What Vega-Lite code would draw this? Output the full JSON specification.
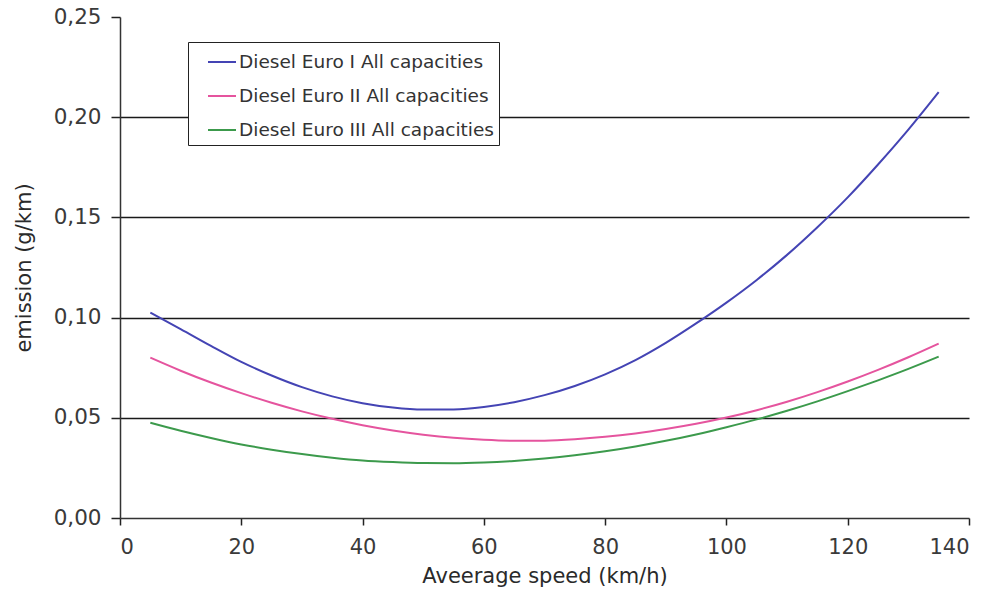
{
  "$schema": "https://vega.github.io/schema/vega-lite/v6.json",
  "width": 849,
  "height": 501,
  "autosize": "none",
  "padding": {"left": 120, "top": 17, "right": 27, "bottom": 78},
  "background": "white",
  "config": {
    "view": {"stroke": null},
    "font": "DejaVu Sans"
  },
  "datasets": {
    "pm": [
      {"speed": 5, "emission": 0.1025, "series": "Diesel Euro I All capacities"},
      {"speed": 10, "emission": 0.0943, "series": "Diesel Euro I All capacities"},
      {"speed": 15, "emission": 0.0859, "series": "Diesel Euro I All capacities"},
      {"speed": 20, "emission": 0.0779, "series": "Diesel Euro I All capacities"},
      {"speed": 25, "emission": 0.0711, "series": "Diesel Euro I All capacities"},
      {"speed": 30, "emission": 0.0653, "series": "Diesel Euro I All capacities"},
      {"speed": 35, "emission": 0.0607, "series": "Diesel Euro I All capacities"},
      {"speed": 40, "emission": 0.0573, "series": "Diesel Euro I All capacities"},
      {"speed": 45, "emission": 0.0551, "series": "Diesel Euro I All capacities"},
      {"speed": 50, "emission": 0.0541, "series": "Diesel Euro I All capacities"},
      {"speed": 55, "emission": 0.0542, "series": "Diesel Euro I All capacities"},
      {"speed": 60, "emission": 0.0554, "series": "Diesel Euro I All capacities"},
      {"speed": 65, "emission": 0.0578, "series": "Diesel Euro I All capacities"},
      {"speed": 70, "emission": 0.0613, "series": "Diesel Euro I All capacities"},
      {"speed": 75, "emission": 0.0659, "series": "Diesel Euro I All capacities"},
      {"speed": 80, "emission": 0.0717, "series": "Diesel Euro I All capacities"},
      {"speed": 85, "emission": 0.0788, "series": "Diesel Euro I All capacities"},
      {"speed": 90, "emission": 0.0874, "series": "Diesel Euro I All capacities"},
      {"speed": 95, "emission": 0.0971, "series": "Diesel Euro I All capacities"},
      {"speed": 100, "emission": 0.1075, "series": "Diesel Euro I All capacities"},
      {"speed": 105, "emission": 0.1188, "series": "Diesel Euro I All capacities"},
      {"speed": 110, "emission": 0.1313, "series": "Diesel Euro I All capacities"},
      {"speed": 115, "emission": 0.1451, "series": "Diesel Euro I All capacities"},
      {"speed": 120, "emission": 0.1600, "series": "Diesel Euro I All capacities"},
      {"speed": 125, "emission": 0.1764, "series": "Diesel Euro I All capacities"},
      {"speed": 130, "emission": 0.1938, "series": "Diesel Euro I All capacities"},
      {"speed": 135, "emission": 0.2125, "series": "Diesel Euro I All capacities"},
      {"speed": 5, "emission": 0.0800, "series": "Diesel Euro II All capacities"},
      {"speed": 10, "emission": 0.0735, "series": "Diesel Euro II All capacities"},
      {"speed": 15, "emission": 0.0676, "series": "Diesel Euro II All capacities"},
      {"speed": 20, "emission": 0.0623, "series": "Diesel Euro II All capacities"},
      {"speed": 25, "emission": 0.0575, "series": "Diesel Euro II All capacities"},
      {"speed": 30, "emission": 0.0532, "series": "Diesel Euro II All capacities"},
      {"speed": 35, "emission": 0.0495, "series": "Diesel Euro II All capacities"},
      {"speed": 40, "emission": 0.0463, "series": "Diesel Euro II All capacities"},
      {"speed": 45, "emission": 0.0437, "series": "Diesel Euro II All capacities"},
      {"speed": 50, "emission": 0.0416, "series": "Diesel Euro II All capacities"},
      {"speed": 55, "emission": 0.0400, "series": "Diesel Euro II All capacities"},
      {"speed": 60, "emission": 0.0390, "series": "Diesel Euro II All capacities"},
      {"speed": 65, "emission": 0.0385, "series": "Diesel Euro II All capacities"},
      {"speed": 70, "emission": 0.0386, "series": "Diesel Euro II All capacities"},
      {"speed": 75, "emission": 0.0393, "series": "Diesel Euro II All capacities"},
      {"speed": 80, "emission": 0.0405, "series": "Diesel Euro II All capacities"},
      {"speed": 85, "emission": 0.0422, "series": "Diesel Euro II All capacities"},
      {"speed": 90, "emission": 0.0444, "series": "Diesel Euro II All capacities"},
      {"speed": 95, "emission": 0.0470, "series": "Diesel Euro II All capacities"},
      {"speed": 100, "emission": 0.0501, "series": "Diesel Euro II All capacities"},
      {"speed": 105, "emission": 0.0538, "series": "Diesel Euro II All capacities"},
      {"speed": 110, "emission": 0.0580, "series": "Diesel Euro II All capacities"},
      {"speed": 115, "emission": 0.0628, "series": "Diesel Euro II All capacities"},
      {"speed": 120, "emission": 0.0681, "series": "Diesel Euro II All capacities"},
      {"speed": 125, "emission": 0.0739, "series": "Diesel Euro II All capacities"},
      {"speed": 130, "emission": 0.0802, "series": "Diesel Euro II All capacities"},
      {"speed": 135, "emission": 0.0870, "series": "Diesel Euro II All capacities"},
      {"speed": 5, "emission": 0.0475, "series": "Diesel Euro III All capacities"},
      {"speed": 10, "emission": 0.0435, "series": "Diesel Euro III All capacities"},
      {"speed": 15, "emission": 0.0399, "series": "Diesel Euro III All capacities"},
      {"speed": 20, "emission": 0.0367, "series": "Diesel Euro III All capacities"},
      {"speed": 25, "emission": 0.0341, "series": "Diesel Euro III All capacities"},
      {"speed": 30, "emission": 0.0319, "series": "Diesel Euro III All capacities"},
      {"speed": 35, "emission": 0.0301, "series": "Diesel Euro III All capacities"},
      {"speed": 40, "emission": 0.0287, "series": "Diesel Euro III All capacities"},
      {"speed": 45, "emission": 0.0279, "series": "Diesel Euro III All capacities"},
      {"speed": 50, "emission": 0.0274, "series": "Diesel Euro III All capacities"},
      {"speed": 55, "emission": 0.0273, "series": "Diesel Euro III All capacities"},
      {"speed": 60, "emission": 0.0277, "series": "Diesel Euro III All capacities"},
      {"speed": 65, "emission": 0.0285, "series": "Diesel Euro III All capacities"},
      {"speed": 70, "emission": 0.0297, "series": "Diesel Euro III All capacities"},
      {"speed": 75, "emission": 0.0313, "series": "Diesel Euro III All capacities"},
      {"speed": 80, "emission": 0.0333, "series": "Diesel Euro III All capacities"},
      {"speed": 85, "emission": 0.0357, "series": "Diesel Euro III All capacities"},
      {"speed": 90, "emission": 0.0385, "series": "Diesel Euro III All capacities"},
      {"speed": 95, "emission": 0.0417, "series": "Diesel Euro III All capacities"},
      {"speed": 100, "emission": 0.0453, "series": "Diesel Euro III All capacities"},
      {"speed": 105, "emission": 0.0492, "series": "Diesel Euro III All capacities"},
      {"speed": 110, "emission": 0.0535, "series": "Diesel Euro III All capacities"},
      {"speed": 115, "emission": 0.0582, "series": "Diesel Euro III All capacities"},
      {"speed": 120, "emission": 0.0633, "series": "Diesel Euro III All capacities"},
      {"speed": 125, "emission": 0.0687, "series": "Diesel Euro III All capacities"},
      {"speed": 130, "emission": 0.0744, "series": "Diesel Euro III All capacities"},
      {"speed": 135, "emission": 0.0805, "series": "Diesel Euro III All capacities"}
    ]
  },
  "layer": [
    {
      "mark": {"type": "rule", "color": "#888888", "strokeWidth": 1.5},
      "encoding": {"x": {"datum": 140}}
    },
    {
      "data": {"name": "pm"},
      "mark": {"type": "line", "strokeWidth": 2, "interpolate": "monotone"},
      "encoding": {
        "x": {
          "field": "speed", "type": "quantitative",
          "scale": {"domain": [0, 140], "nice": false},
          "axis": {
            "title": "Aveerage speed (km/h)",
            "values": [0, 20, 40, 60, 80, 100, 120, 140],
            "grid": false,
            "domainColor": "#333333", "domainWidth": 1.5,
            "tickColor": "#222222", "tickSize": 7, "tickWidth": 1.5,
            "labelFont": "DejaVu Sans", "labelFontSize": 21, "labelColor": "#3a3a3a", "labelPadding": 11,
            "titleFont": "DejaVu Sans", "titleFontSize": 21, "titleFontWeight": "normal", "titleColor": "#2a2a2a", "titlePadding": 8
          }
        },
        "y": {
          "field": "emission", "type": "quantitative",
          "scale": {"domain": [0, 0.25], "nice": false},
          "axis": {
            "title": "emission (g/km)",
            "values": [0, 0.05, 0.1, 0.15, 0.2, 0.25],
            "labelExpr": "replace(format(datum.value, '.2f'), '.', ',')",
            "grid": true, "gridColor": "#1a1a1a", "gridWidth": 1.6,
            "gridOpacity": {"condition": {"test": "datum.value > 0.001 && datum.value < 0.24", "value": 1}, "value": 0},
            "domainColor": "#333333", "domainWidth": 1.5,
            "tickColor": "#222222", "tickSize": 9, "tickWidth": 1.5,
            "labelFont": "DejaVu Sans", "labelFontSize": 21.5, "labelColor": "#3a3a3a", "labelPadding": 10,
            "titleFont": "DejaVu Sans", "titleFontSize": 21, "titleFontWeight": "normal", "titleColor": "#2a2a2a", "titlePadding": 19
          }
        },
        "color": {
          "field": "series", "type": "nominal",
          "scale": {
            "domain": ["Diesel Euro I All capacities", "Diesel Euro II All capacities", "Diesel Euro III All capacities"],
            "range": ["#4444b4", "#e5549e", "#3c9a4c"]
          },
          "legend": {
            "title": null,
            "orient": "none", "legendX": 68, "legendY": 25,
            "direction": "vertical",
            "strokeColor": "#222222", "fillColor": "white",
            "padding": 5, "rowPadding": 9,
            "symbolType": "stroke", "symbolSize": 784, "symbolStrokeWidth": 2, "symbolOffset": 14,
            "labelFont": "DejaVu Sans", "labelFontSize": 18.5, "labelColor": "#333333", "labelOffset": 2, "labelLimit": 400
          }
        }
      }
    },
    {
      "mark": {"type": "text", "fontSize": 23, "font": "DejaVu Sans", "color": "#2a2a2a", "align": "center", "baseline": "middle"},
      "encoding": {
        "x": {"datum": 98.4},
        "y": {"datum": 0.2355},
        "text": {"value": "PM emissions"}
      }
    }
  ]
}
